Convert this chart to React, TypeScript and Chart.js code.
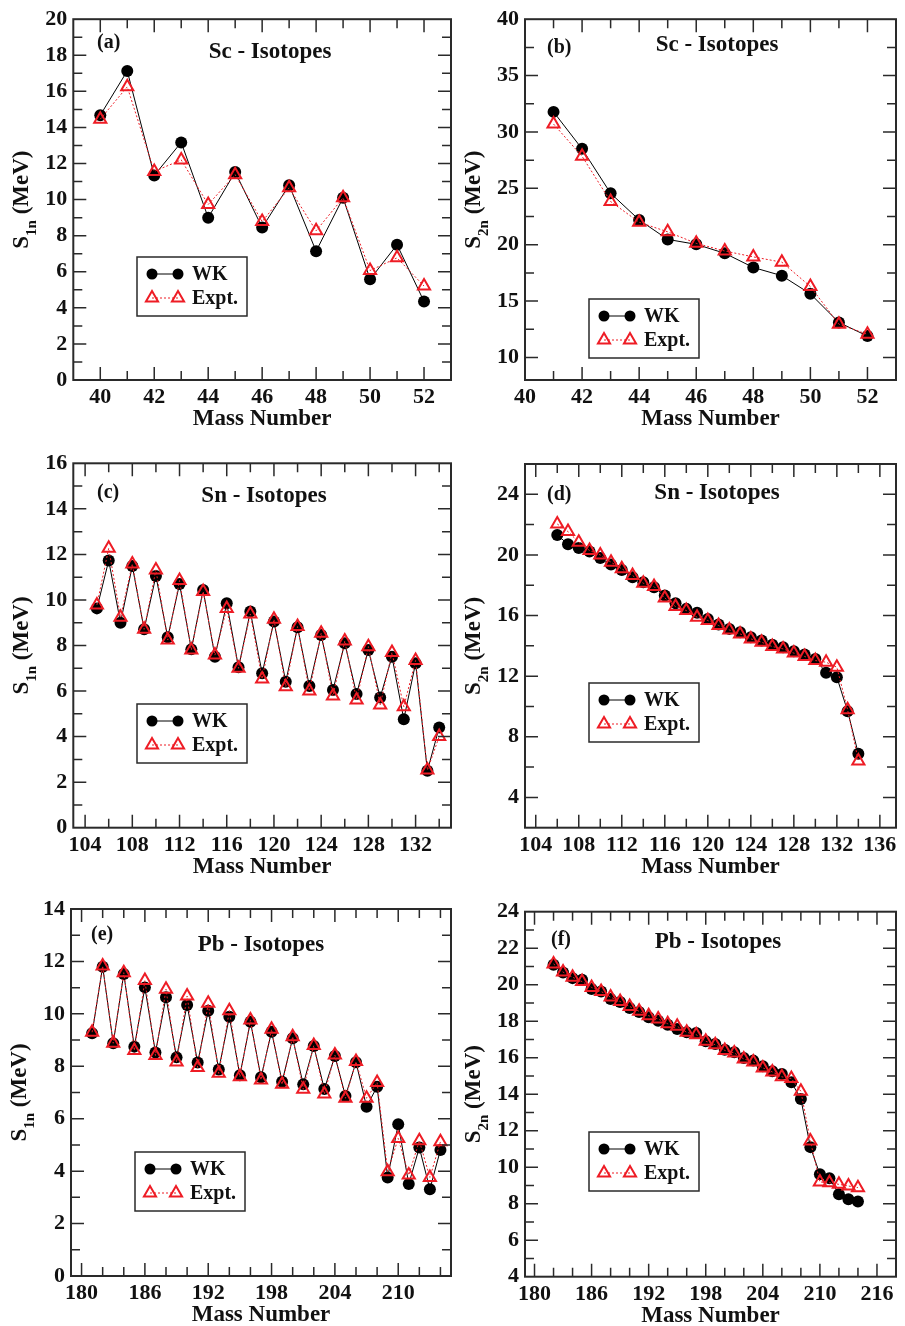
import React, { useEffect, useRef } from 'react';
import { Chart, registerables } from 'chart.js';
Chart.register(...registerables);

// ---------- DATA ----------
// (a) Sc isotopes, S1n
const scMassA = [40, 41, 42, 43, 44, 45, 46, 47, 48, 49, 50, 51, 52];
const scS1nWK = [14.68, 17.13, 11.34, 13.17, 9.0, 11.53, 8.45, 10.8, 7.14, 10.1, 5.58, 7.5, 4.35];
const scS1nExpt = [14.46, 16.25, 11.56, 12.2, 9.73, 11.38, 8.78, 10.65, 8.27, 10.1, 6.07, 6.77, 5.21];

// (b) Sc isotopes, S2n
const scMassB = [41, 42, 43, 44, 45, 46, 47, 48, 49, 50, 51, 52];
const scS2nWK = [31.78, 28.5, 24.56, 22.2, 20.47, 20.03, 19.24, 17.98, 17.25, 15.64, 13.1, 11.9];
const scS2nExpt = [30.7, 27.84, 23.83, 21.99, 21.14, 20.12, 19.44, 18.92, 18.45, 16.29, 12.95, 12.05];

// (c) Sn isotopes, S1n
const snMassC = [105, 106, 107, 108, 109, 110, 111, 112, 113, 114, 115, 116, 117, 118, 119, 120, 121, 122, 123, 124, 125, 126, 127, 128, 129, 130, 131, 132, 133, 134];
const snS1nWK = [9.63, 11.73, 9.0, 11.49, 8.71, 11.05, 8.36, 10.7, 7.83, 10.44, 7.51, 9.85, 7.04, 9.49, 6.78, 9.05, 6.41, 8.8, 6.22, 8.46, 6.05, 8.1, 5.87, 7.8, 5.72, 7.51, 4.76, 7.22, 2.5, 4.4];
const snS1nExpt = [9.78, 12.27, 9.24, 11.58, 8.71, 11.32, 8.24, 10.85, 7.8, 10.37, 7.58, 9.63, 7.0, 9.38, 6.53, 9.15, 6.19, 8.83, 6.0, 8.54, 5.78, 8.2, 5.61, 7.95, 5.39, 7.69, 5.31, 7.34, 2.53, 4.0];

// (d) Sn isotopes, S2n
const snMassD = [106, 107, 108, 109, 110, 111, 112, 113, 114, 115, 116, 117, 118, 119, 120, 121, 122, 123, 124, 125, 126, 127, 128, 129, 130, 131, 132, 133, 134];
const snS2nWK = [21.32, 20.7, 20.46, 20.22, 19.8, 19.36, 19.01, 18.53, 18.2, 17.87, 17.32, 16.81, 16.44, 16.18, 15.78, 15.41, 15.12, 14.9, 14.57, 14.35, 14.07, 13.91, 13.65, 13.43, 13.14, 12.22, 11.93, 9.69, 6.88];
const snS2nExpt = [22.04, 21.54, 20.84, 20.29, 20.0, 19.52, 19.08, 18.64, 18.13, 17.91, 17.16, 16.59, 16.33, 15.89, 15.67, 15.34, 15.05, 14.79, 14.46, 14.24, 13.95, 13.8, 13.52, 13.3, 13.03, 12.92, 12.59, 9.78, 6.4];

// (e) Pb isotopes, S1n
const pbMassE = [181, 182, 183, 184, 185, 186, 187, 188, 189, 190, 191, 192, 193, 194, 195, 196, 197, 198, 199, 200, 201, 202, 203, 204, 205, 206, 207, 208, 209, 210, 211, 212, 213, 214];
const pbS1nWK = [9.26, 11.8, 8.88, 11.52, 8.75, 11.01, 8.53, 10.63, 8.34, 10.34, 8.14, 10.12, 7.88, 9.89, 7.66, 9.7, 7.58, 9.32, 7.41, 9.07, 7.31, 8.77, 7.13, 8.39, 6.87, 8.15, 6.46, 7.22, 3.76, 5.79, 3.51, 4.9, 3.31, 4.81];
const pbS1nExpt = [9.3, 11.83, 8.88, 11.57, 8.6, 11.27, 8.41, 10.94, 8.16, 10.68, 7.95, 10.4, 7.73, 10.12, 7.6, 9.77, 7.48, 9.41, 7.31, 9.13, 7.12, 8.79, 6.94, 8.43, 6.78, 8.18, 6.78, 7.38, 3.98, 5.25, 3.85, 5.16, 3.76, 5.12];

// (f) Pb isotopes, S2n
const pbMassF = [182, 183, 184, 185, 186, 187, 188, 189, 190, 191, 192, 193, 194, 195, 196, 197, 198, 199, 200, 201, 202, 203, 204, 205, 206, 207, 208, 209, 210, 211, 212, 213, 214];
const pbS2nWK = [21.09, 20.67, 20.36, 20.27, 19.77, 19.63, 19.21, 19.05, 18.72, 18.5, 18.21, 18.03, 17.81, 17.57, 17.39, 17.35, 16.9, 16.75, 16.44, 16.3, 15.99, 15.84, 15.53, 15.26, 15.11, 14.66, 13.74, 11.1, 9.61, 9.39, 8.52, 8.24, 8.12];
const pbS2nExpt = [21.14, 20.69, 20.41, 20.17, 19.85, 19.63, 19.32, 19.08, 18.81, 18.54, 18.3, 18.12, 17.86, 17.72, 17.39, 17.26, 16.9, 16.71, 16.4, 16.26, 15.93, 15.77, 15.44, 15.22, 14.95, 14.86, 14.16, 11.43, 9.19, 9.15, 9.06, 8.97, 8.88];

// tick labels
const xTicksSc = [40, 42, 44, 46, 48, 50, 52];
const xTicksSnC = [104, 108, 112, 116, 120, 124, 128, 132];
const xTicksSnD = [104, 108, 112, 116, 120, 124, 128, 132, 136];
const xTicksPbE = [180, 186, 192, 198, 204, 210];
const xTicksPbF = [180, 186, 192, 198, 204, 210, 216];
const yTicksA = [0, 2, 4, 6, 8, 10, 12, 14, 16, 18, 20];
const yTicksB = [10, 15, 20, 25, 30, 35, 40];
const yTicksC = [0, 2, 4, 6, 8, 10, 12, 14, 16];
const yTicksD = [4, 8, 12, 16, 20, 24];
const yTicksE = [0, 2, 4, 6, 8, 10, 12, 14];
const yTicksF = [4, 6, 8, 10, 12, 14, 16, 18, 20, 22, 24];

// ---------- LAYOUT ----------
const FONT = '"Liberation Serif", "Times New Roman", Times, serif';

type Panel = {
  cell: { x: number; y: number; w: number; h: number };
  area: { l: number; r: number; t: number; b: number };
  xr: { min: number; max: number; ticks: number[]; minor: number };
  yr: { min: number; max: number; ticks: number[]; minor: number };
  mass: number[]; wk: number[]; expt: number[];
  tag: string; title: string; sub: string;
  titlePos: [number, number]; tagPos: [number, number]; legendPos: [number, number];
};

const panels: Panel[] = [
  {
    cell: { x: 0, y: 0, w: 460, h: 440 }, area: { l: 73.3, r: 451.7, t: 15.7, b: 380 },
    xr: { min: 39, max: 53, ticks: xTicksSc, minor: 1 }, yr: { min: 0, max: 20, ticks: yTicksA, minor: 1 },
    mass: scMassA, wk: scS1nWK, expt: scS1nExpt, tag: '(a)', title: 'Sc - Isotopes', sub: '1n',
    titlePos: [270, 52], tagPos: [97, 43], legendPos: [137, 257],
  },
  {
    cell: { x: 460, y: 0, w: 445, h: 440 }, area: { l: 525, r: 903.3, t: 15.7, b: 380 },
    xr: { min: 40, max: 53, ticks: xTicksSc, minor: 1 }, yr: { min: 8, max: 40, ticks: yTicksB, minor: 2.5 },
    mass: scMassB, wk: scS2nWK, expt: scS2nExpt, tag: '(b)', title: 'Sc - Isotopes', sub: '2n',
    titlePos: [717, 45], tagPos: [547, 48], legendPos: [589, 299],
  },
  {
    cell: { x: 0, y: 440, w: 460, h: 445 }, area: { l: 73.3, r: 451.7, t: 463.3, b: 827.7 },
    xr: { min: 103, max: 135, ticks: xTicksSnC, minor: 2 }, yr: { min: 0, max: 16, ticks: yTicksC, minor: 1 },
    mass: snMassC, wk: snS1nWK, expt: snS1nExpt, tag: '(c)', title: 'Sn - Isotopes', sub: '1n',
    titlePos: [264, 496], tagPos: [97, 493], legendPos: [137, 704],
  },
  {
    cell: { x: 460, y: 440, w: 445, h: 445 }, area: { l: 525, r: 902.7, t: 464, b: 827.7 },
    xr: { min: 103, max: 137.5, ticks: xTicksSnD, minor: 2 }, yr: { min: 2, max: 26, ticks: yTicksD, minor: 2 },
    mass: snMassD, wk: snS2nWK, expt: snS2nExpt, tag: '(d)', title: 'Sn - Isotopes', sub: '2n',
    titlePos: [717, 493], tagPos: [547, 495], legendPos: [589, 683],
  },
  {
    cell: { x: 0, y: 885, w: 460, h: 441 }, area: { l: 71, r: 451.7, t: 909, b: 1276 },
    xr: { min: 179, max: 215, ticks: xTicksPbE, minor: 2 }, yr: { min: 0, max: 14, ticks: yTicksE, minor: 1 },
    mass: pbMassE, wk: pbS1nWK, expt: pbS1nExpt, tag: '(e)', title: 'Pb - Isotopes', sub: '1n',
    titlePos: [261, 945], tagPos: [91, 935], legendPos: [135, 1152],
  },
  {
    cell: { x: 460, y: 885, w: 445, h: 441 }, area: { l: 525, r: 903, t: 911.7, b: 1276.7 },
    xr: { min: 179, max: 218, ticks: xTicksPbF, minor: 2 }, yr: { min: 4, max: 24, ticks: yTicksF, minor: 1 },
    mass: pbMassF, wk: pbS2nWK, expt: pbS2nExpt, tag: '(f)', title: 'Pb - Isotopes', sub: '2n',
    titlePos: [718, 942], tagPos: [551, 940], legendPos: [589, 1132],
  },
];

const RED = '#ee1c25';
const INK = '#111';
const FRAME = '#2a2a2a';

function minorValues(min: number, max: number, step: number, majors: number[]) {
  const out: number[] = [];
  const start = Math.ceil(min / step - 1e-9) * step;
  for (let k = 0; ; k++) {
    const v = Math.round((start + k * step) * 1000) / 1000;
    if (v >= max - 1e-9) break;
    if (v <= min + 1e-9) continue;
    if (majors.some((m) => Math.abs(m - v) < 1e-6)) continue;
    out.push(v);
  }
  return out;
}

function drawTriangle(ctx: CanvasRenderingContext2D, x: number, y: number, r: number) {
  let rad = 0;
  ctx.beginPath();
  ctx.moveTo(x + Math.sin(rad) * r, y - Math.cos(rad) * r);
  rad += (2 * Math.PI) / 3;
  ctx.lineTo(x + Math.sin(rad) * r, y - Math.cos(rad) * r);
  rad += (2 * Math.PI) / 3;
  ctx.lineTo(x + Math.sin(rad) * r, y - Math.cos(rad) * r);
  ctx.closePath();
  ctx.stroke();
}

function makeDecor(p: Panel) {
  return {
    id: 'decor',
    afterDraw(chart: any) {
      const ctx: CanvasRenderingContext2D = chart.ctx;
      const { left, right, top, bottom } = chart.chartArea;
      const xs = chart.scales.x;
      const ys = chart.scales.y;
      const ox = p.cell.x;
      const oy = p.cell.y;
      ctx.save();
      // ticks (inside, all four sides)
      ctx.strokeStyle = FRAME;
      ctx.lineWidth = 1.5;
      const majL = 13;
      const minL = 9;
      const xTick = (v: number, len: number) => {
        const px = xs.getPixelForValue(v);
        ctx.beginPath();
        ctx.moveTo(px, bottom); ctx.lineTo(px, bottom - len);
        ctx.moveTo(px, top); ctx.lineTo(px, top + len);
        ctx.stroke();
      };
      const yTick = (v: number, len: number) => {
        const py = ys.getPixelForValue(v);
        ctx.beginPath();
        ctx.moveTo(left, py); ctx.lineTo(left + len, py);
        ctx.moveTo(right, py); ctx.lineTo(right - len, py);
        ctx.stroke();
      };
      p.xr.ticks.forEach((v) => { if (v > p.xr.min && v < p.xr.max) xTick(v, majL); });
      minorValues(p.xr.min, p.xr.max, p.xr.minor, p.xr.ticks).forEach((v) => xTick(v, minL));
      p.yr.ticks.forEach((v) => { if (v > p.yr.min && v < p.yr.max) yTick(v, majL); });
      minorValues(p.yr.min, p.yr.max, p.yr.minor, p.yr.ticks).forEach((v) => yTick(v, minL));
      // frame
      ctx.lineWidth = 2;
      ctx.strokeRect(left, top, right - left, bottom - top);

      // titles
      ctx.fillStyle = INK;
      ctx.textBaseline = 'middle';
      ctx.font = `bold 23px ${FONT}`;
      ctx.textAlign = 'center';
      ctx.fillText(p.title, p.titlePos[0] - ox, p.titlePos[1] - oy);
      ctx.font = `bold 20px ${FONT}`;
      ctx.textAlign = 'left';
      ctx.fillText(p.tag, p.tagPos[0] - ox, p.tagPos[1] - oy);

      // x axis title
      ctx.font = `bold 23px ${FONT}`;
      ctx.textAlign = 'center';
      ctx.fillText('Mass Number', (left + right) / 2, bottom + 39);

      // y axis title with subscript
      ctx.save();
      ctx.translate(left - 45, (top + bottom) / 2);
      ctx.rotate(-Math.PI / 2);
      ctx.textBaseline = 'alphabetic';
      ctx.textAlign = 'left';
      const mainF = `bold 23px ${FONT}`;
      const subF = `bold 15px ${FONT}`;
      ctx.font = mainF; const wS = ctx.measureText('S').width; const wR = ctx.measureText(' (MeV)').width;
      ctx.font = subF; const wSub = ctx.measureText(p.sub).width;
      let tx = -(wS + wSub + wR) / 2;
      ctx.font = mainF; ctx.fillText('S', tx, 0); tx += wS;
      ctx.font = subF; ctx.fillText(p.sub, tx, 8); tx += wSub;
      ctx.font = mainF; ctx.fillText(' (MeV)', tx, 0);
      ctx.restore();

      // legend
      const lx = p.legendPos[0] - ox;
      const ly = p.legendPos[1] - oy;
      ctx.fillStyle = '#fff';
      ctx.fillRect(lx, ly, 110, 59);
      ctx.strokeStyle = FRAME;
      ctx.lineWidth = 1.5;
      ctx.strokeRect(lx, ly, 110, 59);
      const m1 = lx + 15;
      const m2 = lx + 41;
      const r1 = ly + 17;
      const r2 = ly + 41;
      ctx.strokeStyle = '#000';
      ctx.lineWidth = 1;
      ctx.beginPath(); ctx.moveTo(m1, r1); ctx.lineTo(m2, r1); ctx.stroke();
      ctx.fillStyle = '#000';
      [m1, m2].forEach((mx) => { ctx.beginPath(); ctx.arc(mx, r1, 5.5, 0, Math.PI * 2); ctx.fill(); });
      ctx.strokeStyle = RED;
      ctx.setLineDash([2, 2]);
      ctx.beginPath(); ctx.moveTo(m1, r2); ctx.lineTo(m2, r2); ctx.stroke();
      ctx.setLineDash([]);
      ctx.lineWidth = 2;
      [m1, m2].forEach((mx) => drawTriangle(ctx, mx, r2, 7));
      ctx.fillStyle = INK;
      ctx.font = `bold 20px ${FONT}`;
      ctx.textAlign = 'left';
      ctx.textBaseline = 'middle';
      ctx.fillText('WK', lx + 55, r1 + 1);
      ctx.fillText('Expt.', lx + 55, r2 + 1);
      ctx.restore();
    },
  };
}

function PanelChart({ p }: { p: Panel }) {
  const ref = useRef<HTMLCanvasElement | null>(null);
  useEffect(() => {
    if (!ref.current) return;
    const tickFont = { family: FONT, size: 22, weight: 'bold' as const };
    const chart = new Chart(ref.current, {
      type: 'line',
      data: {
        datasets: [
          {
            label: 'Expt.',
            data: p.mass.map((m, i) => ({ x: m, y: p.expt[i] })),
            borderColor: RED,
            borderWidth: 1,
            borderDash: [2, 2],
            pointStyle: 'triangle',
            pointRadius: 7,
            pointBorderWidth: 2,
            pointBackgroundColor: 'rgba(0,0,0,0)',
            pointBorderColor: RED,
            order: 0,
          },
          {
            label: 'WK',
            data: p.mass.map((m, i) => ({ x: m, y: p.wk[i] })),
            borderColor: '#000',
            borderWidth: 1,
            pointStyle: 'circle',
            pointRadius: 6,
            pointBorderWidth: 0,
            pointBackgroundColor: '#000',
            pointBorderColor: '#000',
            order: 1,
          },
        ],
      },
      options: {
        responsive: false,
        animation: false,
        devicePixelRatio: 1,
        layout: {
          padding: {
            left: 0,
            top: p.area.t - p.cell.y,
            right: p.cell.x + p.cell.w - p.area.r,
            bottom: 0,
          },
        },
        plugins: { legend: { display: false }, tooltip: { enabled: false } },
        scales: {
          x: {
            type: 'linear',
            min: p.xr.min,
            max: p.xr.max,
            afterBuildTicks: (s: any) => { s.ticks = p.xr.ticks.map((v) => ({ value: v })); },
            afterFit: (s: any) => { s.height = p.cell.y + p.cell.h - p.area.b; },
            grid: { display: false, drawTicks: false },
            border: { display: false },
            ticks: { font: tickFont, color: INK, padding: 4, maxRotation: 0, autoSkip: false, callback: (v: any) => String(v) },
          },
          y: {
            type: 'linear',
            min: p.yr.min,
            max: p.yr.max,
            afterBuildTicks: (s: any) => { s.ticks = p.yr.ticks.map((v) => ({ value: v })); },
            afterFit: (s: any) => { s.width = p.area.l - p.cell.x; },
            grid: { display: false, drawTicks: false },
            border: { display: false },
            ticks: { font: tickFont, color: INK, padding: 6, autoSkip: false, callback: (v: any) => String(v) },
          },
        },
      },
      plugins: [makeDecor(p)],
    } as any);
    return () => chart.destroy();
  }, [p]);
  return (
    <canvas
      ref={ref}
      width={p.cell.w}
      height={p.cell.h}
      style={{ position: 'absolute', left: p.cell.x, top: p.cell.y, width: p.cell.w, height: p.cell.h }}
    />
  );
}

export default function App() {
  return (
    <div style={{ position: 'absolute', left: 0, top: 0, width: 905, height: 1326, background: '#fff' }}>
      {panels.map((p, i) => (
        <PanelChart key={i} p={p} />
      ))}
    </div>
  );
}
